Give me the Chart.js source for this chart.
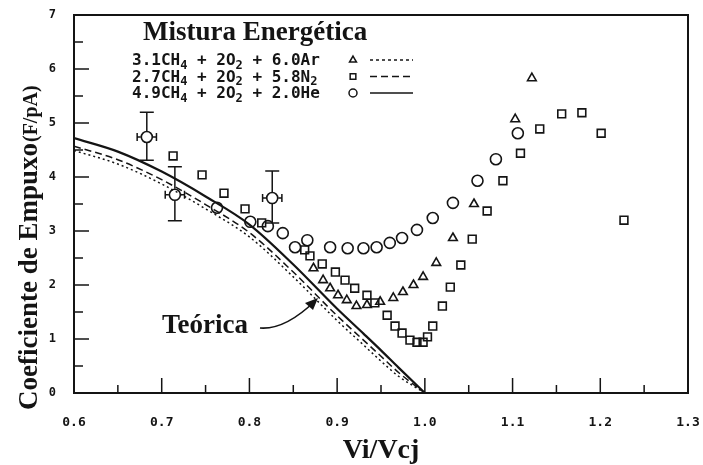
<!DOCTYPE html>
<html>
<head>
<meta charset="utf-8">
<script src="https://cdn.jsdelivr.net/npm/chart.js@4/dist/chart.umd.min.js"></script>
<style>
  html, body { margin: 0; padding: 0; background: #fff; }
  #wrap { width: 703px; height: 465px; }
</style>
</head>
<body>
<div id="wrap"><canvas id="myChart" width="703" height="465"></canvas></div>
<script>
'use strict'

// theoretical curves (Vi/Vcj -> coeficiente)
var curveX  = [0.60, 0.65, 0.70, 0.75, 0.80, 0.85, 0.90, 0.93, 0.95, 0.97, 1.00];
var curveHe = [4.72, 4.47, 4.10, 3.64, 3.12, 2.38, 1.56, 1.10, 0.79, 0.47, 0.00];
var curveN2 = [4.57, 4.32, 3.95, 3.49, 2.97, 2.24, 1.43, 0.98, 0.68, 0.38, 0.00];
var curveAr = [4.49, 4.24, 3.87, 3.41, 2.89, 2.15, 1.34, 0.89, 0.59, 0.31, 0.00];

// experimental points, 4.9CH4 + 2O2 + 2.0He (circles)
var heX = [0.683, 0.715, 0.826, 0.763, 0.801, 0.821, 0.838, 0.852, 0.866, 0.892, 0.912, 0.930, 0.945, 0.960, 0.974, 0.991, 1.009, 1.032, 1.060, 1.081, 1.106];
var heY = [4.74, 3.67, 3.61, 3.43, 3.17, 3.09, 2.96, 2.70, 2.83, 2.70, 2.68, 2.68, 2.70, 2.78, 2.87, 3.02, 3.24, 3.52, 3.93, 4.33, 4.81];

// error bars on the first three He points
var errX  = [0.683, 0.715, 0.826];
var errY  = [4.74, 3.67, 3.61];
var errLo = [4.31, 3.19, 3.15];
var errHi = [5.20, 4.19, 4.11];
var errDx = 0.011;

// 2.7CH4 + 2O2 + 5.8N2 (squares)
var n2X = [0.713, 0.746, 0.771, 0.795, 0.814, 0.863, 0.869, 0.883, 0.898, 0.909, 0.920, 0.934, 0.943, 0.957, 0.966, 0.974, 0.983, 0.991, 0.998, 1.003, 1.009, 1.020, 1.029, 1.041, 1.054, 1.071, 1.089, 1.109, 1.131, 1.156, 1.179, 1.201, 1.227];
var n2Y = [4.39, 4.04, 3.70, 3.41, 3.15, 2.65, 2.54, 2.39, 2.24, 2.09, 1.94, 1.81, 1.67, 1.44, 1.24, 1.11, 0.98, 0.94, 0.94, 1.04, 1.24, 1.61, 1.96, 2.37, 2.85, 3.37, 3.93, 4.44, 4.89, 5.17, 5.19, 4.81, 3.20];

// 3.1CH4 + 2O2 + 6.0Ar (triangles)
var arX = [0.873, 0.884, 0.892, 0.901, 0.911, 0.922, 0.934, 0.949, 0.964, 0.975, 0.987, 0.998, 1.013, 1.032, 1.056, 1.103, 1.122];
var arY = [2.31, 2.09, 1.94, 1.81, 1.72, 1.61, 1.63, 1.69, 1.76, 1.87, 2.00, 2.15, 2.41, 2.87, 3.50, 5.07, 5.83];

var xTicks = [0.6, 0.7, 0.8, 0.9, 1.0, 1.1, 1.2, 1.3];
var yTicks = [0, 1, 2, 3, 4, 5, 6, 7];

function pts(xs, ys) {
    return xs.map(function (x, i) { return { x: x, y: ys[i] }; });
}

var ink = '#141414';
var serif = '"Liberation Serif", "Times New Roman", serif';
var mono = '"DejaVu Sans Mono", "Liberation Mono", monospace';

// draws text with subscript pieces: parts = [[text, isSub], ...]
function drawRich(ctx, parts, x, y, size) {
    parts.forEach(function (p) {
        var s = p[1] ? Math.round(size * 0.75) : size;
        ctx.font = 'bold ' + s + 'px ' + mono;
        ctx.fillText(p[0], x, p[1] ? y + size * 0.22 : y);
        x += ctx.measureText(p[0]).width;
    });
}

var decorPlugin = {
    id: 'decor',
    afterDatasetsDraw: function (chart) {
        var ctx = chart.ctx;
        var a = chart.chartArea;
        var xs = chart.scales.x, ys = chart.scales.y;
        ctx.save();
        ctx.strokeStyle = ink;
        ctx.fillStyle = ink;

        // frame
        ctx.lineWidth = 2;
        ctx.strokeRect(a.left, a.top, a.right - a.left, a.bottom - a.top);

        // inward ticks
        ctx.lineWidth = 1.5;
        ctx.beginPath();
        for (var v = 0.65; v < 1.3; v += 0.05) {
            var px = xs.getPixelForValue(v);
            var major = Math.abs(v * 10 - Math.round(v * 10)) < 0.01;
            ctx.moveTo(px, a.bottom);
            ctx.lineTo(px, a.bottom - (major ? 15 : 8));
        }
        for (var w = 0.5; w < 7; w += 0.5) {
            var py = ys.getPixelForValue(w);
            ctx.moveTo(a.left, py);
            ctx.lineTo(a.left + (w % 1 === 0 ? 15 : 9), py);
        }
        ctx.stroke();

        // error bars
        ctx.lineWidth = 1.5;
        errX.forEach(function (x, i) {
            var cx = xs.getPixelForValue(x);
            var cy = ys.getPixelForValue(errY[i]);
            var top = ys.getPixelForValue(errHi[i]);
            var bot = ys.getPixelForValue(errLo[i]);
            var l = xs.getPixelForValue(x - errDx);
            var r = xs.getPixelForValue(x + errDx);
            ctx.beginPath();
            ctx.moveTo(cx, top); ctx.lineTo(cx, cy - 6);
            ctx.moveTo(cx, cy + 6); ctx.lineTo(cx, bot);
            ctx.moveTo(cx - 7, top); ctx.lineTo(cx + 7, top);
            ctx.moveTo(cx - 7, bot); ctx.lineTo(cx + 7, bot);
            ctx.moveTo(l, cy); ctx.lineTo(cx - 6, cy);
            ctx.moveTo(cx + 6, cy); ctx.lineTo(r, cy);
            ctx.moveTo(l, cy - 4); ctx.lineTo(l, cy + 4);
            ctx.moveTo(r, cy - 4); ctx.lineTo(r, cy + 4);
            ctx.stroke();
        });

        // legend
        ctx.textAlign = 'left';
        ctx.textBaseline = 'alphabetic';
        ctx.font = 'bold 27px ' + serif;
        ctx.fillText('Mistura Energética', 143, 40);
        var rows = [
            { parts: [['3.1CH', 0], ['4', 1], [' + 2O', 0], ['2', 1], [' + 6.0Ar', 0]], style: 'triangle', dash: [3, 3] },
            { parts: [['2.7CH', 0], ['4', 1], [' + 2O', 0], ['2', 1], [' + 5.8N', 0], ['2', 1]], style: 'rect', dash: [7, 4] },
            { parts: [['4.9CH', 0], ['4', 1], [' + 2O', 0], ['2', 1], [' + 2.0He', 0]], style: 'circle', dash: [] }
        ];
        rows.forEach(function (row, i) {
            var by = 65 + i * 16.5;
            ctx.fillStyle = ink;
            drawRich(ctx, row.parts, 132, by, 16);
            ctx.lineWidth = 1.5;
            ctx.fillStyle = 'rgba(0,0,0,0)';
            Chart.helpers.drawPoint(ctx, { pointStyle: row.style, radius: 4, borderWidth: 1.5 }, 353, by - 5);
            ctx.setLineDash(row.dash);
            ctx.lineWidth = 1.5;
            ctx.beginPath();
            ctx.moveTo(370, by - 5);
            ctx.lineTo(413, by - 5);
            ctx.stroke();
            ctx.setLineDash([]);
        });
        ctx.fillStyle = ink;

        // "Teórica" label and arrow
        ctx.font = 'bold 27px ' + serif;
        ctx.fillText('Teórica', 162, 333);
        ctx.lineWidth = 1.6;
        ctx.beginPath();
        ctx.moveTo(260, 328);
        ctx.quadraticCurveTo(285, 330, 315, 301);
        ctx.stroke();
        ctx.beginPath();
        ctx.moveTo(318, 298);
        ctx.lineTo(305, 303);
        ctx.lineTo(313, 310);
        ctx.closePath();
        ctx.fill();

        // axis titles
        ctx.font = 'bold 28px ' + serif;
        ctx.textAlign = 'center';
        ctx.fillText('Vi/Vcj', (a.left + a.right) / 2, 458);

        ctx.translate(37, 410);
        ctx.rotate(-Math.PI / 2);
        ctx.textAlign = 'left';
        ctx.font = 'bold 27px ' + serif;
        ctx.fillText('Coeficiente de Empuxo', 0, 0);
        var wMain = ctx.measureText('Coeficiente de Empuxo').width;
        ctx.font = 'bold 20px ' + serif;
        ctx.fillText('(F/pA)', wMain + 1, 0);
        ctx.restore();
    }
};

function curveSet(label, ys, dash, width) {
    return {
        label: label,
        data: pts(curveX, ys),
        showLine: true,
        borderColor: ink,
        borderWidth: width,
        borderDash: dash,
        pointRadius: 0,
        cubicInterpolationMode: 'monotone',
        fill: false
    };
}

function markSet(label, data, style, radius) {
    return {
        label: label,
        data: data,
        pointStyle: style,
        pointRadius: radius,
        pointBorderWidth: 1.6,
        borderColor: ink,
        pointBackgroundColor: 'rgba(0,0,0,0)',
        backgroundColor: 'rgba(0,0,0,0)'
    };
}

var ctx = document.getElementById('myChart').getContext('2d');

var graphData = {
    type: 'scatter',
    data: {
        datasets: [
            curveSet('Teórica He', curveHe, [], 2.2),
            curveSet('Teórica N2', curveN2, [7, 4], 1.5),
            curveSet('Teórica Ar', curveAr, [2, 3], 1.5),
            markSet('4.9CH4 + 2O2 + 2.0He', pts(heX, heY), 'circle', 5.5),
            markSet('2.7CH4 + 2O2 + 5.8N2', pts(n2X, n2Y), 'rect', 5.5),
            markSet('3.1CH4 + 2O2 + 6.0Ar', pts(arX, arY), 'triangle', 5)
        ]
    },
    options: {
        responsive: false,
        animation: false,
        devicePixelRatio: 1,
        layout: { padding: { left: 0, right: 15, top: 15, bottom: 0 } },
        plugins: {
            legend: { display: false },
            tooltip: { enabled: false }
        },
        scales: {
            x: {
                type: 'linear',
                min: 0.6,
                max: 1.3,
                afterBuildTicks: function (s) { s.ticks = xTicks.map(function (v) { return { value: v }; }); },
                afterFit: function (s) { s.height = 72; },
                grid: { display: false, drawTicks: true, tickLength: 22 },
                border: { display: false },
                ticks: {
                    padding: 0,
                    color: ink,
                    font: { family: mono, size: 13, weight: 'bold' },
                    maxRotation: 0,
                    callback: function (v) { return v.toFixed(1); }
                }
            },
            y: {
                min: 0,
                max: 7,
                afterBuildTicks: function (s) { s.ticks = yTicks.map(function (v) { return { value: v }; }); },
                afterFit: function (s) { s.width = 74; },
                grid: { display: false, drawTicks: true, tickLength: 18 },
                border: { display: false },
                ticks: {
                    padding: 0,
                    color: ink,
                    font: { family: mono, size: 12, weight: 'bold' },
                    callback: function (v) { return String(v); }
                }
            }
        }
    },
    plugins: [decorPlugin]
};

var myChart = new Chart(ctx, graphData);
</script>
</body>
</html>
